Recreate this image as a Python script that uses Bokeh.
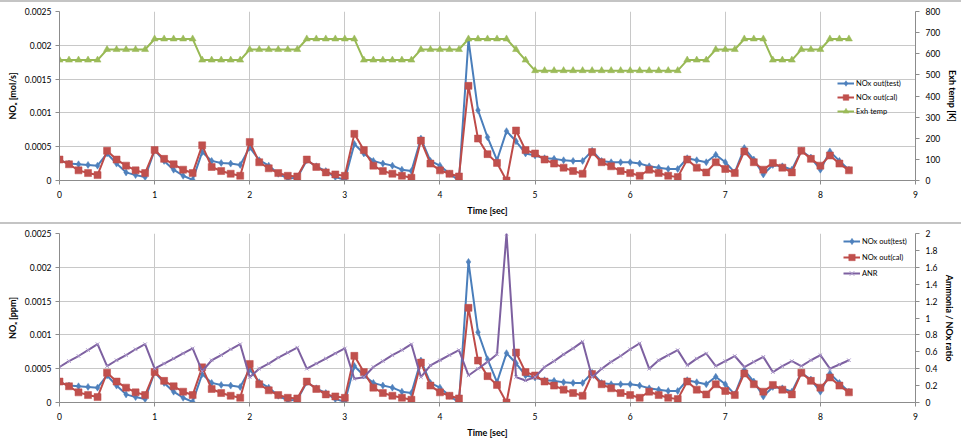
from bokeh.plotting import figure
from bokeh.models import (Range1d, LinearAxis, FixedTicker, CustomJSTickFormatter,
                          Legend, LegendItem, ColumnDataSource, Div)
from bokeh.layouts import column
from bokeh.embed import file_html
from bokeh.resources import INLINE

# ---------------- data ----------------
time_s = [0.0, 0.1, 0.2, 0.3, 0.4, 0.5, 0.6, 0.7, 0.8, 0.9,
          1.0, 1.1, 1.2, 1.3, 1.4, 1.5, 1.6, 1.7, 1.8, 1.9,
          2.0, 2.1, 2.2, 2.3, 2.4, 2.5, 2.6, 2.7, 2.8, 2.9,
          3.0, 3.1, 3.2, 3.3, 3.4, 3.5, 3.6, 3.7, 3.8, 3.9,
          4.0, 4.1, 4.2, 4.3, 4.4, 4.5, 4.6, 4.7, 4.8, 4.9,
          5.0, 5.1, 5.2, 5.3, 5.4, 5.5, 5.6, 5.7, 5.8, 5.9,
          6.0, 6.1, 6.2, 6.3, 6.4, 6.5, 6.6, 6.7, 6.8, 6.9,
          7.0, 7.1, 7.2, 7.3, 7.4, 7.5, 7.6, 7.7, 7.8, 7.9,
          8.0, 8.1, 8.2, 8.3]

nox_test = [0.00030, 0.00025, 0.00024, 0.00023, 0.00022, 0.00040, 0.00025, 0.00012, 0.00008, 0.00005,
            0.00045, 0.00029, 0.00016, 0.00007, 0.00001, 0.00042, 0.00029, 0.00026, 0.00025, 0.00023,
            0.00049, 0.00030, 0.00022, 0.00010, 0.00003, 0.00004, 0.00030, 0.00021, 0.00014, 0.00005,
            0.00001, 0.00054, 0.00040, 0.00029, 0.00025, 0.00022, 0.00016, 0.00014, 0.00062, 0.00029,
            0.00022, 0.00010, 0.00000, 0.00208, 0.00104, 0.00064, 0.00030, 0.00073, 0.00058, 0.00040,
            0.00037, 0.00033, 0.00032, 0.00030, 0.00029, 0.00029, 0.00044, 0.00029, 0.00027, 0.00027,
            0.00027, 0.00025, 0.00021, 0.00019, 0.00017, 0.00017, 0.00033, 0.00030, 0.00027, 0.00038,
            0.00027, 0.00012, 0.00048, 0.00031, 0.00009, 0.00023, 0.00021, 0.00016, 0.00044, 0.00034,
            0.00016, 0.00043, 0.00029, 0.00016]

nox_cal = [0.00031, 0.00024, 0.00015, 0.00011, 0.00008, 0.00044, 0.00031, 0.00022, 0.00015, 0.00011,
           0.00045, 0.00032, 0.00024, 0.00016, 0.00011, 0.00052, 0.00020, 0.00014, 0.00010, 0.00007,
           0.00057, 0.00027, 0.00018, 0.00011, 0.00007, 0.00006, 0.00031, 0.00020, 0.00012, 0.00009,
           0.00007, 0.00069, 0.00045, 0.00022, 0.00014, 0.00010, 0.00007, 0.00004, 0.00059, 0.00025,
           0.00015, 0.00010, 0.00006, 0.00140, 0.00062, 0.00039, 0.00026, 0.00000, 0.00074, 0.00045,
           0.00040, 0.00031, 0.00025, 0.00019, 0.00014, 0.00010, 0.00042, 0.00027, 0.00021, 0.00014,
           0.00011, 0.00007, 0.00016, 0.00011, 0.00007, 0.00005, 0.00031, 0.00019, 0.00012, 0.00027,
           0.00017, 0.00011, 0.00043, 0.00027, 0.00016, 0.00026, 0.00019, 0.00012, 0.00044, 0.00032,
           0.00022, 0.00037, 0.00025, 0.00015]

exh_temp = [570, 570, 570, 570, 570, 620, 620, 620, 620, 620,
            670, 670, 670, 670, 670, 570, 570, 570, 570, 570,
            620, 620, 620, 620, 620, 620, 670, 670, 670, 670,
            670, 670, 570, 570, 570, 570, 570, 570, 620, 620,
            620, 620, 620, 670, 670, 670, 670, 670, 620, 570,
            520, 520, 520, 520, 520, 520, 520, 520, 520, 520,
            520, 520, 520, 520, 520, 520, 570, 570, 570, 620,
            620, 620, 670, 670, 670, 570, 570, 570, 620, 620,
            620, 670, 670, 670]

anr = [0.42, 0.49, 0.55, 0.62, 0.69, 0.43, 0.50, 0.56, 0.63, 0.69,
       0.40, 0.46, 0.52, 0.58, 0.64, 0.37, 0.50, 0.56, 0.63, 0.69,
       0.30, 0.40, 0.46, 0.53, 0.59, 0.65, 0.40, 0.46, 0.52, 0.58,
       0.64, 0.28, 0.30, 0.42, 0.49, 0.56, 0.62, 0.69, 0.30, 0.44,
       0.50, 0.56, 0.62, 0.32, 0.40, 0.48, 0.57, 2.00, 0.30, 0.26,
       0.30, 0.42, 0.49, 0.57, 0.64, 0.72, 0.30, 0.40, 0.48, 0.55,
       0.63, 0.70, 0.40, 0.50, 0.56, 0.62, 0.44, 0.52, 0.58, 0.43,
       0.49, 0.55, 0.42, 0.48, 0.54, 0.36, 0.43, 0.49, 0.43, 0.50,
       0.56, 0.40, 0.45, 0.50]

x_ticks = [0, 1, 2, 3, 4, 5, 6, 7, 8, 9]
nox_ticks = [0, 0.0005, 0.001, 0.0015, 0.002, 0.0025]
temp_ticks = [0, 100, 200, 300, 400, 500, 600, 700, 800]
anr_ticks = [0, 0.2, 0.4, 0.6, 0.8, 1.0, 1.2, 1.4, 1.6, 1.8, 2.0]

# ---------------- style ----------------
FONT = "Lato"
TICK_SIZE = "8.5px"
TITLE_SIZE = "9px"
AX_COLOR = "#8c8c8c"
GRID_COLOR = "#c8c8c8"
SEP_COLOR = "#c4c4c4"
BLUE, BLUE_M = "#4A7EBB", "#4F81BD"
RED, RED_M = "#BE4B48", "#C0504D"
GREEN, GREEN_M = "#98B954", "#9BBB59"
PURPLE, PURPLE_M = "#7D60A0", "#A995C8"
W = 961

fmt = CustomJSTickFormatter(code="return String(parseFloat(tick.toPrecision(6)));")

src = ColumnDataSource(dict(t=time_s, test=nox_test, cal=nox_cal, temp=exh_temp, anr=anr))


def style_axis(ax, label, standoff=4):
    ax.axis_label = label
    ax.axis_label_text_font = FONT
    ax.axis_label_text_font_style = "bold"
    ax.axis_label_text_font_size = TITLE_SIZE
    ax.axis_label_text_color = "#000000"
    ax.major_label_text_font = FONT
    ax.major_label_text_font_size = TICK_SIZE
    ax.major_label_text_color = "#000000"
    ax.axis_line_color = AX_COLOR
    ax.major_tick_line_color = AX_COLOR
    ax.minor_tick_line_color = None
    ax.major_tick_in = 0
    ax.major_tick_out = 4
    ax.major_label_standoff = standoff
    ax.axis_label_standoff = 4


def make_panel(height, top, bottom, left_label, right_name, right_range, right_ticks, right_label):
    p = figure(width=W, height=height, x_range=Range1d(0, 9), y_range=Range1d(0, 0.0025),
               output_backend="svg", toolbar_location=None,
               min_border_left=59, min_border_right=46, min_border_top=top, min_border_bottom=bottom)
    p.outline_line_color = None
    p.background_fill_color = "white"
    p.border_fill_color = "white"
    p.xaxis.ticker = FixedTicker(ticks=x_ticks)
    p.yaxis.ticker = FixedTicker(ticks=nox_ticks)
    p.yaxis.formatter = fmt
    p.xgrid.ticker = FixedTicker(ticks=x_ticks)
    p.ygrid.ticker = FixedTicker(ticks=nox_ticks)
    p.grid.grid_line_color = GRID_COLOR
    style_axis(p.xaxis[0], "Time [sec]", 6)
    style_axis(p.yaxis[0], left_label, 4)
    p.extra_y_ranges = {right_name: right_range}
    rax = LinearAxis(y_range_name=right_name, ticker=FixedTicker(ticks=right_ticks), formatter=fmt)
    style_axis(rax, right_label, 6)
    p.add_layout(rax, "right")
    return p


def nox_series(p):
    l1 = p.line("t", "test", source=src, line_color=BLUE, line_width=2)
    s1 = p.scatter("t", "test", source=src, marker="diamond", size=7,
                   fill_color=BLUE_M, line_color=BLUE, line_width=0.5)
    l2 = p.line("t", "cal", source=src, line_color=RED, line_width=2)
    s2 = p.scatter("t", "cal", source=src, marker="square", size=7,
                   fill_color=RED_M, line_color=RED, line_width=0.5)
    return [l1, s1], [l2, s2]


def legend(p, items, loc, row_h):
    lg = Legend(items=items, location=loc, background_fill_alpha=0, border_line_color=None,
                label_text_font=FONT, label_text_font_size="7.5px", label_text_color="#000000",
                glyph_width=17, glyph_height=int(row_h), label_height=int(row_h),
                spacing=0, padding=0, margin=0, label_standoff=2)
    p.add_layout(lg)


def separator():
    return Div(text="", width=W, height=2, margin=(0, 0, 0, 0),
               styles={"background-color": SEP_COLOR})


# ---------------- top panel ----------------
p1 = make_panel(220, 9, 42, "NOₓ [mol/s]", "temp", Range1d(0, 800), temp_ticks, "Exh temp [K]")
r_test, r_cal = nox_series(p1)
l3 = p1.line("t", "temp", source=src, y_range_name="temp", line_color=GREEN, line_width=2)
s3 = p1.scatter("t", "temp", source=src, y_range_name="temp", marker="triangle", size=7,
                fill_color=GREEN_M, line_color=GREEN, line_width=0.5)
legend(p1, [LegendItem(label="NOx out(test)", renderers=r_test),
            LegendItem(label="NOx out(cal)", renderers=r_cal),
            LegendItem(label="Exh temp", renderers=[l3, s3])], (778, 62), 14)

# ---------------- bottom panel ----------------
p2 = make_panel(220, 9, 42, "NOₓ [ppm]", "anr", Range1d(0, 2), anr_ticks, "Ammonia / NOx ratio")
r_test2, r_cal2 = nox_series(p2)
l4 = p2.line("t", "anr", source=src, y_range_name="anr", line_color=PURPLE, line_width=2)
s4 = p2.scatter("t", "anr", source=src, y_range_name="anr", marker="x", size=5,
                line_color=PURPLE_M, line_width=1)
legend(p2, [LegendItem(label="NOx out(test)", renderers=r_test2),
            LegendItem(label="NOx out(cal)", renderers=r_cal2),
            LegendItem(label="ANR", renderers=[l4, s4])], (784, 121), 16)

layout = column(separator(), p1, separator(), p2, spacing=0)
open("out.html", "w").write(file_html(layout, INLINE))
